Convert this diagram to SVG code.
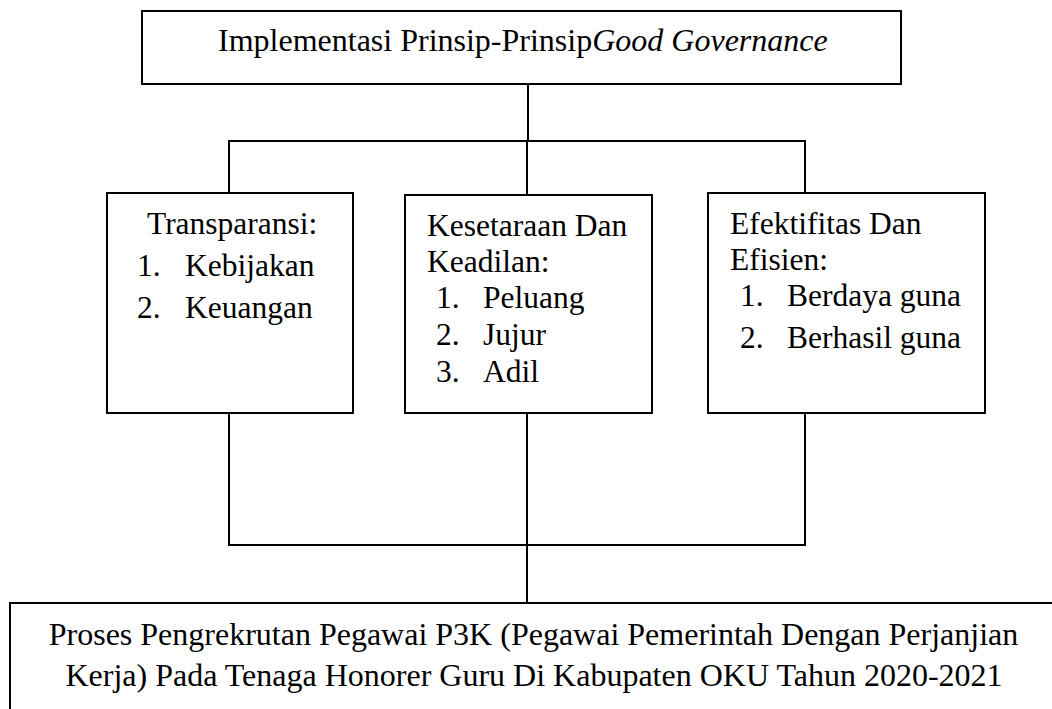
<svg xmlns="http://www.w3.org/2000/svg" width="1052" height="709" viewBox="0 0 1052 709">
<style>
.box{fill:#fff;stroke:#000;stroke-width:2}
.ln{fill:none;stroke:#000;stroke-width:2}
text{font-family:"Liberation Serif","Times New Roman",serif;font-size:31.5px;fill:#000}
.big{font-size:32px}
</style>
<rect width="1052" height="709" fill="#fff"/>
<g id="connectors">
<path class="ln" d="M528,84 V141 M229,193 V141 H805 V193 M527,141 V195"/>
<path class="ln" d="M229,413 V545 H805 V413 M527,413 V603"/>
</g>
<g id="top">
<rect class="box" x="142" y="11" width="759" height="73"/>
<text class="big" x="218" y="51">Implementasi Prinsip-Prinsip<tspan font-style="italic">Good Governance</tspan></text>
</g>
<g id="transparansi">
<rect class="box" x="107" y="193" width="246" height="220"/>
<text x="147" y="234">Transparansi:</text>
<text x="137" y="276">1.</text><text x="185" y="276">Kebijakan</text>
<text x="137" y="318">2.</text><text x="185" y="318">Keuangan</text>
</g>
<g id="kesetaraan">
<rect class="box" x="405" y="195" width="247" height="218"/>
<text x="427" y="236">Kesetaraan Dan</text>
<text x="427" y="272">Keadilan:</text>
<text x="436" y="308">1.</text><text x="483" y="308">Peluang</text>
<text x="436" y="345">2.</text><text x="483" y="345">Jujur</text>
<text x="436" y="382">3.</text><text x="483" y="382">Adil</text>
</g>
<g id="efektifitas">
<rect class="box" x="708" y="193" width="277" height="220"/>
<text x="730" y="234">Efektifitas Dan</text>
<text x="730" y="270">Efisien:</text>
<text x="740" y="306">1.</text><text x="787" y="306">Berdaya guna</text>
<text x="740" y="348">2.</text><text x="787" y="348">Berhasil guna</text>
</g>
<g id="proses">
<rect class="box" x="10" y="603" width="1050" height="120"/>
<text class="big" x="533.5" y="645" text-anchor="middle">Proses Pengrekrutan Pegawai P3K (Pegawai Pemerintah Dengan Perjanjian</text>
<text class="big" x="534" y="686" text-anchor="middle">Kerja) Pada Tenaga Honorer Guru Di Kabupaten OKU Tahun 2020-2021</text>
</g>
</svg>
